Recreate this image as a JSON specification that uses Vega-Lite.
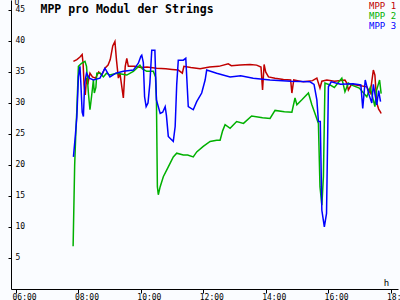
{
  "$schema": "https://vega.github.io/schema/vega-lite/v6.json",
  "width": 387,
  "height": 289,
  "autosize": {"type": "none"},
  "padding": {"left": 11, "top": 0, "right": 2, "bottom": 11},
  "background": "#fafcff",
  "config": {"view": {"stroke": null}},
  "data": {"values": [
    {"t":7.84,"v":36.7,"s":"MPP 1"},{"t":7.95,"v":37.0,"s":"MPP 1"},{"t":8.05,"v":37.4,"s":"MPP 1"},{"t":8.12,"v":37.8,"s":"MPP 1"},{"t":8.15,"v":36.4,"s":"MPP 1"},{"t":8.18,"v":33.0,"s":"MPP 1"},{"t":8.22,"v":31.3,"s":"MPP 1"},{"t":8.26,"v":34.0,"s":"MPP 1"},{"t":8.3,"v":33.0,"s":"MPP 1"},{"t":8.37,"v":34.8,"s":"MPP 1"},{"t":8.45,"v":34.2,"s":"MPP 1"},{"t":8.55,"v":34.0,"s":"MPP 1"},{"t":8.65,"v":35.0,"s":"MPP 1"},{"t":8.75,"v":34.5,"s":"MPP 1"},{"t":8.85,"v":35.6,"s":"MPP 1"},{"t":8.95,"v":36.1,"s":"MPP 1"},{"t":9.02,"v":37.0,"s":"MPP 1"},{"t":9.1,"v":39.2,"s":"MPP 1"},{"t":9.17,"v":39.9,"s":"MPP 1"},{"t":9.22,"v":36.9,"s":"MPP 1"},{"t":9.28,"v":34.0,"s":"MPP 1"},{"t":9.33,"v":34.8,"s":"MPP 1"},{"t":9.38,"v":33.0,"s":"MPP 1"},{"t":9.44,"v":30.8,"s":"MPP 1"},{"t":9.5,"v":35.9,"s":"MPP 1"},{"t":9.55,"v":37.2,"s":"MPP 1"},{"t":9.6,"v":35.9,"s":"MPP 1"},{"t":9.8,"v":35.9,"s":"MPP 1"},{"t":10.0,"v":35.7,"s":"MPP 1"},{"t":10.2,"v":35.8,"s":"MPP 1"},{"t":10.5,"v":35.6,"s":"MPP 1"},{"t":10.8,"v":35.5,"s":"MPP 1"},{"t":11.0,"v":35.4,"s":"MPP 1"},{"t":11.2,"v":35.3,"s":"MPP 1"},{"t":11.33,"v":34.8,"s":"MPP 1"},{"t":11.38,"v":35.9,"s":"MPP 1"},{"t":11.6,"v":35.7,"s":"MPP 1"},{"t":11.9,"v":35.5,"s":"MPP 1"},{"t":12.2,"v":35.8,"s":"MPP 1"},{"t":12.5,"v":35.9,"s":"MPP 1"},{"t":12.8,"v":36.3,"s":"MPP 1"},{"t":12.9,"v":36.0,"s":"MPP 1"},{"t":13.18,"v":36.1,"s":"MPP 1"},{"t":13.5,"v":36.2,"s":"MPP 1"},{"t":13.71,"v":36.1,"s":"MPP 1"},{"t":13.85,"v":35.8,"s":"MPP 1"},{"t":13.9,"v":32.1,"s":"MPP 1"},{"t":13.95,"v":36.2,"s":"MPP 1"},{"t":14.0,"v":35.0,"s":"MPP 1"},{"t":14.09,"v":34.2,"s":"MPP 1"},{"t":14.3,"v":34.0,"s":"MPP 1"},{"t":14.57,"v":33.8,"s":"MPP 1"},{"t":14.8,"v":33.7,"s":"MPP 1"},{"t":14.84,"v":31.6,"s":"MPP 1"},{"t":14.9,"v":33.7,"s":"MPP 1"},{"t":15.21,"v":33.4,"s":"MPP 1"},{"t":15.5,"v":33.6,"s":"MPP 1"},{"t":15.64,"v":34.0,"s":"MPP 1"},{"t":15.74,"v":32.4,"s":"MPP 1"},{"t":15.8,"v":33.5,"s":"MPP 1"},{"t":15.96,"v":33.7,"s":"MPP 1"},{"t":16.2,"v":33.5,"s":"MPP 1"},{"t":16.54,"v":33.7,"s":"MPP 1"},{"t":16.6,"v":33.2,"s":"MPP 1"},{"t":16.65,"v":32.1,"s":"MPP 1"},{"t":16.75,"v":33.0,"s":"MPP 1"},{"t":17.0,"v":32.8,"s":"MPP 1"},{"t":17.24,"v":32.6,"s":"MPP 1"},{"t":17.35,"v":31.6,"s":"MPP 1"},{"t":17.45,"v":35.3,"s":"MPP 1"},{"t":17.5,"v":34.5,"s":"MPP 1"},{"t":17.56,"v":30.0,"s":"MPP 1"},{"t":17.62,"v":29.0,"s":"MPP 1"},{"t":17.67,"v":28.6,"s":"MPP 1"},{"t":17.7,"v":28.3,"s":"MPP 1"},
    {"t":7.83,"v":6.9,"s":"MPP 2"},{"t":7.88,"v":20.0,"s":"MPP 2"},{"t":7.92,"v":25.6,"s":"MPP 2"},{"t":7.95,"v":28.9,"s":"MPP 2"},{"t":8.0,"v":35.9,"s":"MPP 2"},{"t":8.1,"v":36.4,"s":"MPP 2"},{"t":8.21,"v":36.7,"s":"MPP 2"},{"t":8.26,"v":35.9,"s":"MPP 2"},{"t":8.32,"v":31.6,"s":"MPP 2"},{"t":8.37,"v":28.9,"s":"MPP 2"},{"t":8.42,"v":31.0,"s":"MPP 2"},{"t":8.48,"v":33.7,"s":"MPP 2"},{"t":8.51,"v":31.6,"s":"MPP 2"},{"t":8.56,"v":32.5,"s":"MPP 2"},{"t":8.59,"v":34.8,"s":"MPP 2"},{"t":8.7,"v":34.8,"s":"MPP 2"},{"t":8.8,"v":34.2,"s":"MPP 2"},{"t":8.9,"v":34.8,"s":"MPP 2"},{"t":9.01,"v":34.5,"s":"MPP 2"},{"t":9.23,"v":34.8,"s":"MPP 2"},{"t":9.55,"v":34.5,"s":"MPP 2"},{"t":9.76,"v":35.1,"s":"MPP 2"},{"t":9.97,"v":36.1,"s":"MPP 2"},{"t":10.05,"v":35.5,"s":"MPP 2"},{"t":10.19,"v":35.1,"s":"MPP 2"},{"t":10.4,"v":35.1,"s":"MPP 2"},{"t":10.47,"v":34.2,"s":"MPP 2"},{"t":10.5,"v":30.5,"s":"MPP 2"},{"t":10.53,"v":16.5,"s":"MPP 2"},{"t":10.56,"v":15.2,"s":"MPP 2"},{"t":10.62,"v":16.5,"s":"MPP 2"},{"t":10.72,"v":18.1,"s":"MPP 2"},{"t":10.88,"v":19.7,"s":"MPP 2"},{"t":11.04,"v":21.3,"s":"MPP 2"},{"t":11.15,"v":21.9,"s":"MPP 2"},{"t":11.36,"v":21.6,"s":"MPP 2"},{"t":11.5,"v":21.6,"s":"MPP 2"},{"t":11.68,"v":21.3,"s":"MPP 2"},{"t":11.79,"v":22.1,"s":"MPP 2"},{"t":12.0,"v":23.0,"s":"MPP 2"},{"t":12.22,"v":23.8,"s":"MPP 2"},{"t":12.43,"v":24.0,"s":"MPP 2"},{"t":12.54,"v":24.0,"s":"MPP 2"},{"t":12.62,"v":25.5,"s":"MPP 2"},{"t":12.7,"v":26.5,"s":"MPP 2"},{"t":12.86,"v":25.9,"s":"MPP 2"},{"t":13.07,"v":27.0,"s":"MPP 2"},{"t":13.29,"v":26.7,"s":"MPP 2"},{"t":13.55,"v":27.9,"s":"MPP 2"},{"t":13.9,"v":27.6,"s":"MPP 2"},{"t":14.14,"v":27.5,"s":"MPP 2"},{"t":14.3,"v":28.8,"s":"MPP 2"},{"t":14.6,"v":28.6,"s":"MPP 2"},{"t":14.84,"v":28.5,"s":"MPP 2"},{"t":14.94,"v":30.8,"s":"MPP 2"},{"t":15.0,"v":29.7,"s":"MPP 2"},{"t":15.16,"v":30.5,"s":"MPP 2"},{"t":15.37,"v":31.6,"s":"MPP 2"},{"t":15.48,"v":29.7,"s":"MPP 2"},{"t":15.58,"v":28.3,"s":"MPP 2"},{"t":15.69,"v":26.7,"s":"MPP 2"},{"t":15.74,"v":16.5,"s":"MPP 2"},{"t":15.8,"v":13.5,"s":"MPP 2"},{"t":15.85,"v":18.1,"s":"MPP 2"},{"t":15.9,"v":33.2,"s":"MPP 2"},{"t":16.06,"v":32.9,"s":"MPP 2"},{"t":16.2,"v":32.5,"s":"MPP 2"},{"t":16.44,"v":34.0,"s":"MPP 2"},{"t":16.54,"v":31.8,"s":"MPP 2"},{"t":16.65,"v":33.2,"s":"MPP 2"},{"t":16.8,"v":32.8,"s":"MPP 2"},{"t":17.0,"v":32.4,"s":"MPP 2"},{"t":17.24,"v":31.0,"s":"MPP 2"},{"t":17.35,"v":32.5,"s":"MPP 2"},{"t":17.5,"v":29.4,"s":"MPP 2"},{"t":17.55,"v":32.0,"s":"MPP 2"},{"t":17.65,"v":33.7,"s":"MPP 2"},{"t":17.7,"v":31.5,"s":"MPP 2"},
    {"t":7.84,"v":21.3,"s":"MPP 3"},{"t":7.9,"v":24.6,"s":"MPP 3"},{"t":7.95,"v":27.8,"s":"MPP 3"},{"t":8.0,"v":34.2,"s":"MPP 3"},{"t":8.05,"v":35.9,"s":"MPP 3"},{"t":8.08,"v":33.0,"s":"MPP 3"},{"t":8.12,"v":28.5,"s":"MPP 3"},{"t":8.16,"v":27.8,"s":"MPP 3"},{"t":8.2,"v":33.2,"s":"MPP 3"},{"t":8.26,"v":34.8,"s":"MPP 3"},{"t":8.35,"v":34.0,"s":"MPP 3"},{"t":8.48,"v":33.7,"s":"MPP 3"},{"t":8.69,"v":34.0,"s":"MPP 3"},{"t":8.85,"v":35.6,"s":"MPP 3"},{"t":9.01,"v":34.2,"s":"MPP 3"},{"t":9.2,"v":34.8,"s":"MPP 3"},{"t":9.44,"v":35.1,"s":"MPP 3"},{"t":9.76,"v":35.3,"s":"MPP 3"},{"t":9.92,"v":36.4,"s":"MPP 3"},{"t":10.0,"v":37.5,"s":"MPP 3"},{"t":10.03,"v":37.7,"s":"MPP 3"},{"t":10.08,"v":36.5,"s":"MPP 3"},{"t":10.12,"v":31.0,"s":"MPP 3"},{"t":10.17,"v":29.4,"s":"MPP 3"},{"t":10.23,"v":30.0,"s":"MPP 3"},{"t":10.29,"v":33.2,"s":"MPP 3"},{"t":10.35,"v":38.5,"s":"MPP 3"},{"t":10.45,"v":38.5,"s":"MPP 3"},{"t":10.5,"v":30.5,"s":"MPP 3"},{"t":10.62,"v":28.3,"s":"MPP 3"},{"t":10.7,"v":28.5,"s":"MPP 3"},{"t":10.78,"v":29.4,"s":"MPP 3"},{"t":10.82,"v":28.0,"s":"MPP 3"},{"t":10.88,"v":24.6,"s":"MPP 3"},{"t":10.96,"v":24.2,"s":"MPP 3"},{"t":11.04,"v":23.8,"s":"MPP 3"},{"t":11.1,"v":26.2,"s":"MPP 3"},{"t":11.15,"v":33.0,"s":"MPP 3"},{"t":11.2,"v":36.9,"s":"MPP 3"},{"t":11.36,"v":36.9,"s":"MPP 3"},{"t":11.44,"v":37.2,"s":"MPP 3"},{"t":11.52,"v":29.4,"s":"MPP 3"},{"t":11.68,"v":28.9,"s":"MPP 3"},{"t":11.79,"v":30.2,"s":"MPP 3"},{"t":11.95,"v":31.6,"s":"MPP 3"},{"t":12.06,"v":33.7,"s":"MPP 3"},{"t":12.11,"v":35.3,"s":"MPP 3"},{"t":12.43,"v":34.8,"s":"MPP 3"},{"t":12.86,"v":34.2,"s":"MPP 3"},{"t":13.2,"v":34.4,"s":"MPP 3"},{"t":13.6,"v":34.0,"s":"MPP 3"},{"t":14.14,"v":33.7,"s":"MPP 3"},{"t":14.8,"v":33.5,"s":"MPP 3"},{"t":15.42,"v":33.4,"s":"MPP 3"},{"t":15.55,"v":33.0,"s":"MPP 3"},{"t":15.64,"v":30.5,"s":"MPP 3"},{"t":15.69,"v":27.0,"s":"MPP 3"},{"t":15.75,"v":27.0,"s":"MPP 3"},{"t":15.8,"v":12.7,"s":"MPP 3"},{"t":15.88,"v":10.0,"s":"MPP 3"},{"t":15.95,"v":12.2,"s":"MPP 3"},{"t":16.01,"v":32.6,"s":"MPP 3"},{"t":16.1,"v":33.4,"s":"MPP 3"},{"t":16.4,"v":33.0,"s":"MPP 3"},{"t":16.8,"v":33.1,"s":"MPP 3"},{"t":17.05,"v":32.9,"s":"MPP 3"},{"t":17.11,"v":29.1,"s":"MPP 3"},{"t":17.19,"v":33.7,"s":"MPP 3"},{"t":17.3,"v":31.5,"s":"MPP 3"},{"t":17.4,"v":30.0,"s":"MPP 3"},{"t":17.45,"v":33.0,"s":"MPP 3"},{"t":17.56,"v":29.7,"s":"MPP 3"},{"t":17.62,"v":32.0,"s":"MPP 3"},{"t":17.68,"v":30.2,"s":"MPP 3"}
  ]},
  "layer": [
    {
      "mark": {"type": "line", "strokeWidth": 1.5, "interpolate": "linear"},
      "encoding": {
        "x": {"field": "t", "type": "quantitative",
          "scale": {"domain": [5.84, 18.24], "nice": false, "zero": false},
          "axis": {"orient": "bottom", "values": [6, 8, 10, 12, 14, 16, 18], "labelExpr": "(datum.value < 10 ? '0' : '') + datum.value + ':00'",
            "grid": false, "domainColor": "#000000", "tickColor": "#000000", "tickSize": 4, "labelAlign": "left", "labelOffset": -4, "labelBaseline": "top", "labelPadding": 0,
            "labelFont": "DejaVu Sans Mono", "labelFontSize": 8, "labelColor": "#000000", "labelFlush": false, "labelOverlap": false,
            "title": "h", "titleFont": "DejaVu Sans Mono", "titleFontSize": 9, "titleFontWeight": "normal", "titleColor": "#000000", "titleX": 375, "titleY": -4, "titleAlign": "center", "titleBaseline": "alphabetic"}},
        "y": {"field": "v", "type": "quantitative",
          "scale": {"domain": [0, 46.6], "nice": false, "zero": false},
          "axis": {"values": [5, 10, 15, 20, 25, 30, 35, 40, 45], "grid": false, "domainColor": "#000000", "tickColor": "#000000", "tickSize": 3,
            "labelAlign": "left", "labelPadding": -7, "labelBaseline": "middle", "labelFont": "DejaVu Sans Mono", "labelFontSize": 8, "labelColor": "#000000",
            "title": "U", "titleAngle": 0, "titleFont": "DejaVu Sans Mono", "titleFontSize": 8, "titleFontWeight": "normal", "titleColor": "#000000", "titleX": 3, "titleY": 4, "titleAlign": "left", "titleBaseline": "alphabetic"}},
        "color": {"field": "s", "type": "nominal",
          "scale": {"domain": ["MPP 1", "MPP 2", "MPP 3"], "range": ["#c00000", "#00b000", "#0000ff"]},
          "legend": {"orient": "top-right", "offset": 1, "padding": 0, "title": null, "symbolSize": 0, "symbolStrokeWidth": 0, "symbolOpacity": 0, "labelOffset": 0,
            "labelFont": "DejaVu Sans Mono", "labelFontSize": 9, "rowPadding": -2,
            "encode": {"labels": {"update": {"fill": {"scale": "color", "field": "value"}}}}}}
      }
    },
    {
      "transform": [{"filter": "false"}],
      "mark": {"type": "rule"},
      "encoding": {
        "x": {"field": "t", "type": "quantitative",
          "scale": {"domain": [5.84, 18.24], "nice": false, "zero": false},
          "axis": {"orient": "top", "domain": false, "ticks": false, "labels": false, "grid": false,
            "title": "MPP pro Modul der Strings", "titleFont": "DejaVu Sans Mono", "titleFontSize": 11.5, "titleFontWeight": "bold", "titleColor": "#000000",
            "titleX": 29, "titleY": 12, "titleAlign": "left", "titleBaseline": "alphabetic"}}
      }
    }
  ],
  "resolve": {"axis": {"x": "independent"}}
}
